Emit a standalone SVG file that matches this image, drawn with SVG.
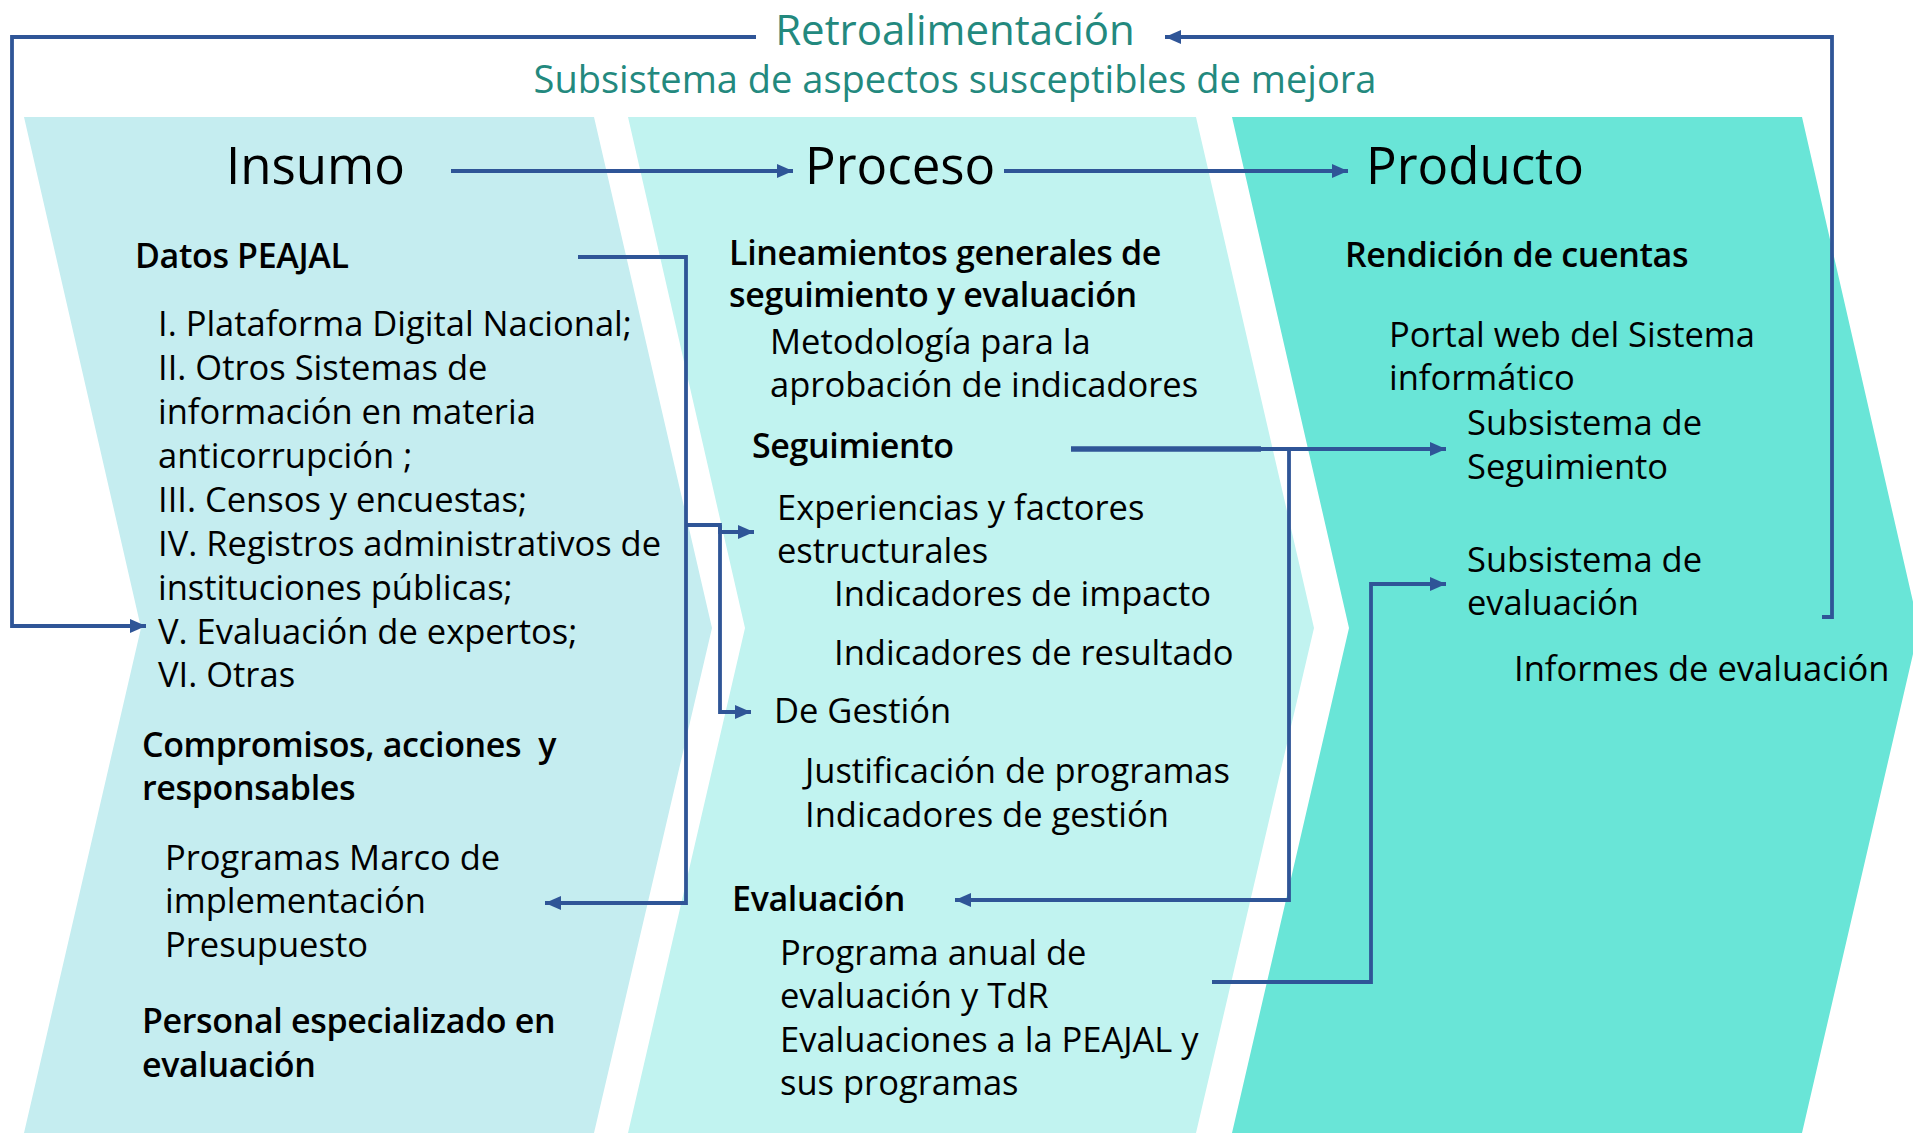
<svg xmlns="http://www.w3.org/2000/svg" width="1913" height="1133" viewBox="0 0 1913 1133">
<defs>
<marker id="ah" markerUnits="userSpaceOnUse" markerWidth="18" markerHeight="16" viewBox="0 0 18 16" refX="17" refY="8" orient="auto">
<path d="M1,1 L17,8 L1,15 Z" fill="#2F5597"/>
</marker>
<style>
.t{font-family:"Open Sans","Noto Sans","Liberation Sans",sans-serif;fill:#000}
.b{font-size:34.5px}
.h{font-size:34px;font-weight:600;letter-spacing:-0.35px}
.ttl{font-size:51px}
.teal{fill:#23897E;font-family:"Open Sans","Noto Sans","Liberation Sans",sans-serif}
.c{fill:none;stroke:#2F5597;stroke-width:3.8}
</style>
</defs>
<rect width="1913" height="1133" fill="#FFFFFF"/>
<g id="chevron-insumo">
<polygon points="24,117 594,117 712,628 594,1133 24,1133 141,628" fill="#C5EDF0"/>
</g>
<g id="chevron-proceso">
<polygon points="628,117 1196,117 1314,628 1196,1133 628,1133 745,628" fill="#C1F3F0"/>
</g>
<g id="chevron-producto">
<polygon points="1232,117 1802,117 1919,628 1802,1133 1232,1133 1349,628" fill="#69E5D7"/>
</g>
<g id="header">
<text class="teal" x="955" y="45" font-size="42" font-weight="500" text-anchor="middle">Retroalimentación</text>
<text class="teal" x="955" y="93" font-size="38" text-anchor="middle">Subsistema de aspectos susceptibles de mejora</text>
</g>
<g id="titles">
<text class="t ttl" x="226" y="184">Insumo</text>
<text class="t ttl" x="805" y="184">Proceso</text>
<text class="t ttl" x="1366" y="184">Producto</text>
</g>
<g id="node-datos">
<text class="t h" x="135" y="268">Datos PEAJAL</text>
<text class="t b" x="158" y="336">I. Plataforma Digital Nacional;</text>
<text class="t b" x="158" y="380">II. Otros Sistemas de</text>
<text class="t b" x="158" y="424">información en materia</text>
<text class="t b" x="158" y="468">anticorrupción ;</text>
<text class="t b" x="158" y="512">III. Censos y encuestas;</text>
<text class="t b" x="158" y="556">IV. Registros administrativos de</text>
<text class="t b" x="158" y="600">instituciones públicas;</text>
<text class="t b" x="158" y="644">V. Evaluación de expertos;</text>
<text class="t b" x="158" y="687">VI. Otras</text>
</g>
<g id="node-compromisos">
<text class="t h" x="142" y="757" style="white-space:pre">Compromisos, acciones  y</text>
<text class="t h" x="142" y="800">responsables</text>
<text class="t b" x="165" y="870">Programas Marco de</text>
<text class="t b" x="165" y="913">implementación</text>
<text class="t b" x="165" y="957">Presupuesto</text>
</g>
<g id="node-personal">
<text class="t h" x="142" y="1033">Personal especializado en</text>
<text class="t h" x="142" y="1077">evaluación</text>
</g>
<g id="node-lineamientos">
<text class="t h" x="729" y="265">Lineamientos generales de</text>
<text class="t h" x="729" y="307">seguimiento y evaluación</text>
<text class="t b" x="770" y="354">Metodología para la</text>
<text class="t b" x="770" y="397">aprobación de indicadores</text>
</g>
<g id="node-seguimiento">
<text class="t h" x="752" y="458">Seguimiento</text>
</g>
<g id="node-experiencias">
<text class="t b" x="777" y="520">Experiencias y factores</text>
<text class="t b" x="777" y="563">estructurales</text>
<text class="t b" x="834" y="606">Indicadores de impacto</text>
<text class="t b" x="834" y="665">Indicadores de resultado</text>
</g>
<g id="node-gestion">
<text class="t b" x="774" y="723">De Gestión</text>
<text class="t b" x="805" y="783">Justificación de programas</text>
<text class="t b" x="805" y="827">Indicadores de gestión</text>
</g>
<g id="node-evaluacion">
<text class="t h" x="732" y="911">Evaluación</text>
<text class="t b" x="780" y="965">Programa anual de</text>
<text class="t b" x="780" y="1008">evaluación y TdR</text>
<text class="t b" x="780" y="1052">Evaluaciones a la PEAJAL y</text>
<text class="t b" x="780" y="1095">sus programas</text>
</g>
<g id="node-rendicion">
<text class="t h" x="1345" y="267">Rendición de cuentas</text>
<text class="t b" x="1389" y="347">Portal web del Sistema</text>
<text class="t b" x="1389" y="390">informático</text>
</g>
<g id="node-sub-seguimiento">
<text class="t b" x="1467" y="435">Subsistema de</text>
<text class="t b" x="1467" y="479">Seguimiento</text>
</g>
<g id="node-sub-evaluacion">
<text class="t b" x="1467" y="572">Subsistema de</text>
<text class="t b" x="1467" y="615">evaluación</text>
<text class="t b" x="1514" y="681">Informes de evaluación</text>
</g>
<g id="connectors">
<polyline class="c" points="756,37 12,37 12,626 146,626" marker-end="url(#ah)"/>
<polyline class="c" points="1822,617 1832,617 1832,37 1165,37" marker-end="url(#ah)"/>
<line class="c" x1="451" y1="171" x2="793" y2="171" marker-end="url(#ah)"/>
<line class="c" x1="1004" y1="171" x2="1348" y2="171" marker-end="url(#ah)"/>
<polyline class="c" points="578,257 686,257 686,903 545,903" marker-end="url(#ah)"/>
<polyline class="c" points="686,525 720,525 720,532 754,532" marker-end="url(#ah)"/>
<polyline class="c" points="720,525 720,712 751,712" marker-end="url(#ah)"/>
<line class="c" x1="1071" y1="449" x2="1446" y2="449" marker-end="url(#ah)"/>
<line x1="1071" y1="449" x2="1261" y2="449" stroke="#2F5597" stroke-width="5.5"/>
<polyline class="c" points="1289,449 1289,900 955,900" marker-end="url(#ah)"/>
<polyline class="c" points="1212,982 1371,982 1371,584 1446,584" marker-end="url(#ah)"/>
</g>
</svg>
